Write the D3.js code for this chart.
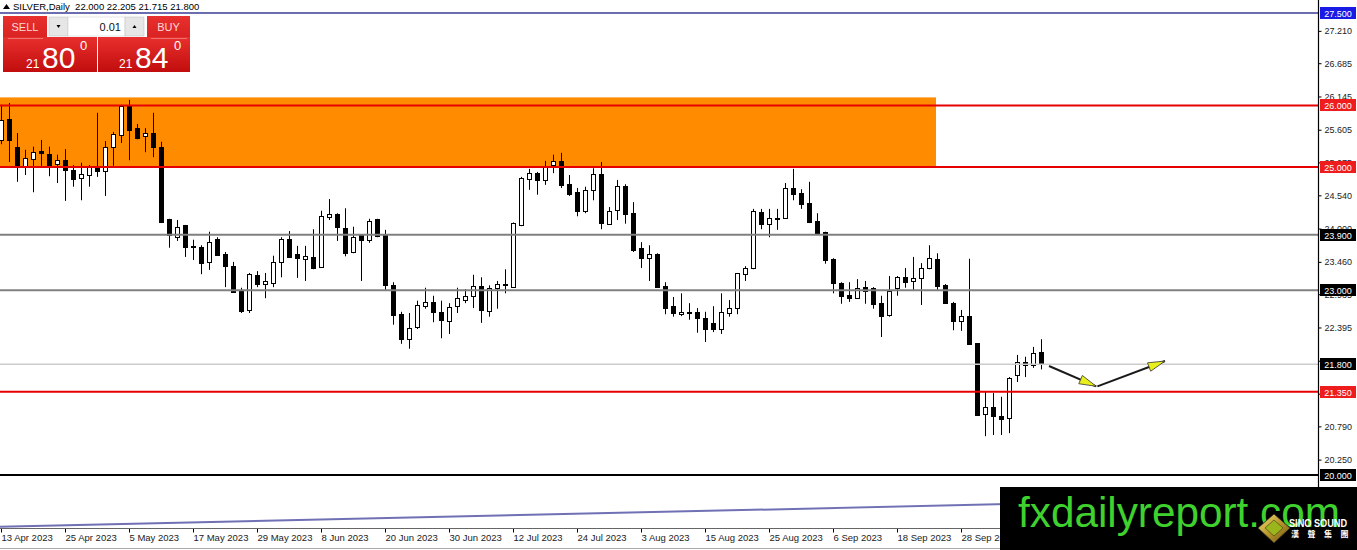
<!DOCTYPE html>
<html><head><meta charset="utf-8">
<script src="https://cdn.jsdelivr.net/npm/d3@7"></script>
<style>body{margin:0;background:#fff;overflow:hidden}svg{display:block}</style>
</head><body>
<svg id="c" width="1357" height="550"></svg>
<script>
// ---------------- DATA ----------------
const dates = [
"2023-04-13","2023-04-14","2023-04-17","2023-04-18","2023-04-19","2023-04-20","2023-04-21","2023-04-24","2023-04-25","2023-04-26","2023-04-27","2023-04-28",
"2023-05-01","2023-05-02","2023-05-03","2023-05-04","2023-05-05","2023-05-08","2023-05-09","2023-05-10","2023-05-11","2023-05-12","2023-05-15","2023-05-16","2023-05-17","2023-05-18","2023-05-19","2023-05-22","2023-05-23","2023-05-24","2023-05-25","2023-05-26","2023-05-29","2023-05-30","2023-05-31",
"2023-06-01","2023-06-02","2023-06-05","2023-06-06","2023-06-07","2023-06-08","2023-06-09","2023-06-12","2023-06-13","2023-06-14","2023-06-15","2023-06-16","2023-06-19","2023-06-20","2023-06-21","2023-06-22","2023-06-23","2023-06-26","2023-06-27","2023-06-28","2023-06-29","2023-06-30",
"2023-07-03","2023-07-04","2023-07-05","2023-07-06","2023-07-07","2023-07-10","2023-07-11","2023-07-12","2023-07-13","2023-07-14","2023-07-17","2023-07-18","2023-07-19","2023-07-20","2023-07-21","2023-07-24","2023-07-25","2023-07-26","2023-07-27","2023-07-28","2023-07-31",
"2023-08-01","2023-08-02","2023-08-03","2023-08-04","2023-08-07","2023-08-08","2023-08-09","2023-08-10","2023-08-11","2023-08-14","2023-08-15","2023-08-16","2023-08-17","2023-08-18","2023-08-21","2023-08-22","2023-08-23","2023-08-24","2023-08-25","2023-08-28","2023-08-29","2023-08-30","2023-08-31",
"2023-09-01","2023-09-04","2023-09-05","2023-09-06","2023-09-07","2023-09-08","2023-09-11","2023-09-12","2023-09-13","2023-09-14","2023-09-15","2023-09-18","2023-09-19","2023-09-20","2023-09-21","2023-09-22","2023-09-25","2023-09-26","2023-09-27","2023-09-28","2023-09-29",
"2023-10-02","2023-10-03","2023-10-04","2023-10-05","2023-10-06","2023-10-09","2023-10-10","2023-10-11","2023-10-12"];

const open = [25.44,25.78,25.33,25.00,25.13,25.26,25.21,25.05,25.11,24.95,24.82,24.87,25.00,24.94,25.33,25.52,25.99,25.63,25.50,25.55,
25.33,24.16,23.86,24.06,23.70,23.70,23.46,23.83,23.59,23.39,23.00,22.68,23.25,23.10,23.12,23.46,23.83,23.59,23.51,23.54,
23.38,24.19,24.24,24.01,23.62,23.90,23.82,24.16,23.90,23.08,22.61,22.21,22.40,22.74,22.81,22.65,22.50,22.74,22.84,22.91,
23.07,22.66,23.04,23.09,23.06,24.06,24.81,24.90,24.79,25.03,25.10,24.72,24.59,24.29,24.63,24.89,24.07,24.30,24.69,24.25,
23.68,23.52,23.59,23.07,22.74,22.61,22.65,22.65,22.55,22.47,22.37,22.63,22.71,23.26,23.36,24.27,24.08,24.17,24.17,24.66,
24.58,24.42,24.12,23.95,23.51,23.12,22.92,22.87,23.05,23.04,22.79,22.60,23.04,23.21,23.15,23.20,23.36,23.51,23.08,22.79,
22.50,22.58,22.14,20.99,21.10,20.96,20.93,21.62,21.83,21.79,22.00];
const high = [26.01,26.04,25.55,25.28,25.33,25.44,25.33,25.20,25.29,25.03,25.07,25.03,25.88,25.42,25.57,26.01,26.09,25.70,25.63,25.88,
25.41,24.16,24.14,24.06,23.82,23.73,23.95,23.86,23.62,23.46,23.04,23.28,23.31,23.28,23.56,23.86,23.96,23.72,23.72,23.99,
24.29,24.48,24.25,24.33,24.03,23.90,24.16,24.16,23.98,23.13,22.65,22.63,22.83,23.04,22.91,22.83,22.79,23.04,23.02,23.25,
23.21,23.08,23.15,23.34,24.10,24.84,24.97,24.92,25.10,25.20,25.23,24.87,24.66,24.68,24.98,25.08,24.35,24.79,24.72,24.43,
23.78,23.73,23.60,23.13,22.89,22.95,22.79,22.71,22.65,22.74,22.95,22.84,23.28,23.39,24.32,24.32,24.32,24.32,24.74,24.97,
24.64,24.76,24.25,23.95,23.52,23.13,23.13,23.18,23.15,23.05,22.91,23.23,23.23,23.36,23.54,23.44,23.73,23.60,23.10,22.81,
22.68,23.51,22.14,21.35,21.33,21.27,21.59,21.95,21.92,22.08,22.205];
const low = [25.37,25.08,24.76,24.87,24.59,25.02,24.85,24.74,24.45,24.68,24.46,24.68,24.84,24.53,25.02,25.39,25.11,25.45,25.24,25.16,
24.09,23.69,23.80,23.54,23.49,23.26,23.33,23.56,23.05,22.97,22.63,22.63,23.05,22.87,23.05,23.21,23.54,23.20,23.15,23.34,
23.38,24.14,23.80,23.55,23.60,23.15,23.77,23.86,23.00,22.44,22.13,22.05,22.37,22.70,22.48,22.22,22.29,22.63,22.79,22.71,
22.47,22.57,22.70,22.95,23.05,24.04,24.63,24.55,24.71,24.90,24.66,24.53,24.20,24.25,24.46,23.99,24.06,24.14,24.08,23.62,
23.36,23.15,23.04,22.61,22.57,22.58,22.52,22.31,22.16,22.32,22.29,22.57,22.61,23.15,23.34,23.99,23.86,23.98,24.16,24.46,
24.32,24.09,23.93,23.43,22.95,22.78,22.81,22.86,22.78,22.70,22.24,22.57,22.91,23.04,23.00,22.76,23.34,23.00,22.79,22.35,
22.34,22.13,20.97,20.63,20.65,20.65,20.68,21.51,21.59,21.74,21.715];
const close = [25.76,25.44,25.00,25.15,25.24,25.23,25.03,25.11,24.95,24.81,24.89,25.00,24.94,25.33,25.54,25.99,25.60,25.47,25.55,25.33,
24.11,23.90,24.03,23.70,23.71,23.44,23.78,23.57,23.39,22.97,22.66,23.26,23.10,23.15,23.46,23.83,23.54,23.52,23.56,23.36,
24.20,24.24,24.03,23.60,23.86,23.82,24.12,23.88,23.08,22.60,22.21,22.39,22.76,22.81,22.65,22.52,22.73,22.87,22.91,23.07,
22.68,23.04,23.10,23.10,24.09,24.82,24.90,24.79,25.00,25.10,24.71,24.56,24.29,24.63,24.89,24.09,24.29,24.69,24.24,23.65,
23.52,23.59,23.05,22.71,22.63,22.65,22.63,22.55,22.37,22.37,22.65,22.71,23.28,23.36,24.29,24.08,24.17,24.18,24.66,24.56,
24.40,24.11,23.93,23.49,23.12,22.91,22.87,23.04,22.99,22.78,22.58,22.99,23.21,23.13,23.20,23.36,23.52,23.07,22.79,22.50,
22.58,22.13,20.97,21.10,20.96,20.91,21.58,21.83,21.79,21.98,21.80];

const tickDates  = ["2023-04-13","2023-04-25","2023-05-05","2023-05-17","2023-05-29","2023-06-08","2023-06-20","2023-06-30","2023-07-12","2023-07-24","2023-08-03","2023-08-15","2023-08-25","2023-09-06","2023-09-18","2023-09-28"];
const tickLabels = ["13 Apr 2023","25 Apr 2023","5 May 2023","17 May 2023","29 May 2023","8 Jun 2023","20 Jun 2023","30 Jun 2023","12 Jul 2023","24 Jul 2023","3 Aug 2023","15 Aug 2023","25 Aug 2023","6 Sep 2023","18 Sep 2023","28 Sep 2023"];
const priceTicks = [27.210,26.685,26.145,25.605,25.075,24.540,24.000,23.460,22.935,22.395,21.855,21.320,20.790,20.250];

const levelPrices = [27.5, 26.0, 25.0, 23.9, 23.0, 21.8, 21.35, 20.0];
const zonePrices = [26.13, 25.0];
const zoneEndDate = "2023-09-25";
const trendIdx = [0, 130];
const trendPrices = [19.16, 19.54];
const arrowIdx = [131, 136.9, 145.5];
const arrowPrices = [21.77, 21.44, 21.85];
const title = "SILVER,Daily  22.000 22.205 21.715 21.800";

// ---------------- STYLES ----------------
const levelStyle = {
  "27.5": {c:"#6c6cb0", w:2, bg:"#1a1ae6"},
  "26":   {c:"#e60000", w:2, bg:"#ee1c1c"},
  "25":   {c:"#e60000", w:2, bg:"#ee1c1c"},
  "23.9": {c:"#808080", w:2, bg:"#000"},
  "23":   {c:"#808080", w:2, bg:"#000"},
  "21.8": {c:"#cccccc", w:1.5, bg:"#000"},
  "21.35":{c:"#e60000", w:2, bg:"#ee1c1c"},
  "20":   {c:"#000000", w:2, bg:"#000"}
};
const FONT = "'Liberation Sans', Arial, sans-serif";
const plotR = 1318, plotB = 528;

const svg = d3.select("#c");
svg.append("rect").attr("width",1357).attr("height",550).attr("fill","#fff");

const x = d3.scaleLinear().domain([0, dates.length-1]).range([1, 1 + 8*(dates.length-1)]);
const y = d3.scaleLinear().domain([19.14, 27.711]).range([plotB, 0]);

const defs = svg.append("defs");
defs.append("clipPath").attr("id","plot").append("rect").attr("x",0).attr("y",0).attr("width",plotR).attr("height",plotB);
const rg = defs.append("linearGradient").attr("id","redg").attr("x1",0).attr("y1",0).attr("x2",0).attr("y2",1);
rg.append("stop").attr("offset","0%").attr("stop-color","#e8302e");
rg.append("stop").attr("offset","100%").attr("stop-color","#c10d0d");
const gg = defs.append("linearGradient").attr("id","gold").attr("x1",0).attr("y1",0).attr("x2",1).attr("y2",1);
gg.append("stop").attr("offset","0%").attr("stop-color","#f5e27a");
gg.append("stop").attr("offset","50%").attr("stop-color","#b8962a");
gg.append("stop").attr("offset","100%").attr("stop-color","#6b5310");

const plot = svg.append("g").attr("clip-path","url(#plot)");

// zone
const zi = dates.indexOf(zoneEndDate);
plot.append("rect").attr("x",0).attr("y",y(zonePrices[0]))
  .attr("width",x(zi)-1).attr("height",y(zonePrices[1])-y(zonePrices[0]))
  .attr("fill","#ff8c00");

// candles
const idx = d3.range(dates.length);
const cg = plot.append("g");
idx.forEach(i=>{
  const cx = Math.round(x(i));
  cg.append("line").attr("x1",cx+0.5).attr("x2",cx+0.5)
    .attr("y1",y(high[i])).attr("y2",y(low[i])).attr("stroke","#000").attr("stroke-width",1);
  const up = close[i] >= open[i];
  const yt = Math.round(y(Math.max(open[i],close[i])));
  const yb = Math.round(y(Math.min(open[i],close[i])));
  cg.append("rect").attr("x",cx-1.5).attr("y",yt+0.5)
    .attr("width",4).attr("height",Math.max(1,yb-yt))
    .attr("fill", up ? "#fff" : "#000").attr("stroke","#000").attr("stroke-width",1);
});

// level lines
levelPrices.forEach(p=>{
  const s = levelStyle[String(p)];
  plot.append("line").attr("x1",0).attr("x2",plotR).attr("y1",y(p)).attr("y2",y(p))
    .attr("stroke",s.c).attr("stroke-width",s.w);
});

// trend line (ray)
const slope = (trendPrices[1]-trendPrices[0])/(trendIdx[1]-trendIdx[0]);
const endIdx = x.invert(plotR);
plot.append("line")
  .attr("x1",x(trendIdx[0])-1).attr("y1",y(trendPrices[0]))
  .attr("x2",x(endIdx)).attr("y2",y(trendPrices[0]+slope*(endIdx-trendIdx[0])))
  .attr("stroke","#7070b4").attr("stroke-width",2);

// arrows
function arrow(i0,p0,i1,p1){
  const x0=x(i0), y0=y(p0), x1=x(i1), y1=y(p1);
  plot.append("line").attr("x1",x0).attr("y1",y0).attr("x2",x1).attr("y2",y1)
    .attr("stroke","#1a1a1a").attr("stroke-width",2);
  const a = Math.atan2(y1-y0, x1-x0), L=17, hw=4.5;
  const bx = x1 - L*Math.cos(a), by = y1 - L*Math.sin(a);
  const px = -Math.sin(a)*hw, py = Math.cos(a)*hw;
  plot.append("polygon")
    .attr("points",[[x1,y1],[bx+px,by+py],[bx-px,by-py]].map(d=>d.join(",")).join(" "))
    .attr("fill","#e9ef1a").attr("stroke","#333").attr("stroke-width",0.8);
}
arrow(arrowIdx[0],arrowPrices[0],arrowIdx[1],arrowPrices[1]);
arrow(arrowIdx[1]+0.15,arrowPrices[1],arrowIdx[2],arrowPrices[2]);

// right axis
const yAxis = d3.axisRight(y).tickValues(priceTicks).tickFormat(d3.format(".3f")).tickSize(3).tickSizeOuter(0);
const ya = svg.append("g").attr("transform",`translate(${plotR+0.5},0)`).call(yAxis);
ya.select(".domain").remove();
ya.selectAll("text").attr("font-family",FONT).attr("font-size",9).attr("fill","#222").attr("x",6);
ya.selectAll("line").attr("stroke","#000");
svg.append("line").attr("x1",plotR+0.5).attr("x2",plotR+0.5).attr("y1",0).attr("y2",plotB+1).attr("stroke","#000").attr("stroke-width",1.2);

// level labels
levelPrices.forEach(p=>{
  const s = levelStyle[String(p)];
  const g = svg.append("g").attr("transform",`translate(${plotR+2},${Math.round(y(p))})`);
  g.append("rect").attr("x",0).attr("y",-6).attr("width",36).attr("height",12).attr("fill",s.bg);
  g.append("text").attr("x",18).attr("y",3.5).attr("text-anchor","middle")
    .attr("font-family",FONT).attr("font-size",9).attr("fill","#fff").text(d3.format(".3f")(p));
});

// bottom axis
const tickIdx = tickDates.map(d=>dates.indexOf(d));
const xAxis = d3.axisBottom(x).tickValues(tickIdx).tickFormat((d,k)=>tickLabels[k]).tickSize(4).tickSizeOuter(0);
const xa = svg.append("g").attr("transform",`translate(0,${plotB+0.5})`).call(xAxis);
xa.select(".domain").remove();
xa.selectAll(".tick line").attr("stroke","#000");
xa.selectAll(".tick").attr("transform",d=>`translate(${Math.round(x(d))+0.5},0)`);
xa.selectAll("text").attr("font-family",FONT).attr("font-size",9.5).attr("fill","#222")
  .attr("text-anchor","start").attr("x",0).attr("y",9).attr("dy","0.32em");
svg.append("line").attr("x1",0).attr("x2",plotR).attr("y1",plotB+0.5).attr("y2",plotB+0.5).attr("stroke","#666").attr("stroke-width",1);
svg.append("line").attr("x1",0).attr("x2",1357).attr("y1",548.5).attr("y2",548.5).attr("stroke","#aaa").attr("stroke-width",1);

// title
svg.append("path").attr("d","M3,9 L6.5,4 L10,9 Z").attr("fill","#000");
svg.append("text").attr("x",13).attr("y",10).attr("font-family",FONT).attr("font-size",9.5)
  .attr("fill","#000").attr("xml:space","preserve").style("white-space","pre").text(title);

// trade panel
const pan = svg.append("g");
pan.append("rect").attr("x",3).attr("y",16).attr("width",44).attr("height",56).attr("fill","url(#redg)");
pan.append("rect").attr("x",3).attr("y",37).attr("width",94).attr("height",35).attr("fill","url(#redg)");
pan.append("rect").attr("x",147).attr("y",16).attr("width",43).attr("height",56).attr("fill","url(#redg)");
pan.append("rect").attr("x",98).attr("y",37).attr("width",92).attr("height",35).attr("fill","url(#redg)");
pan.append("line").attr("x1",8).attr("x2",43).attr("y1",38.5).attr("y2",38.5).attr("stroke","#f08080").attr("stroke-width",0.8);
pan.append("line").attr("x1",151).attr("x2",187).attr("y1",38.5).attr("y2",38.5).attr("stroke","#f08080").attr("stroke-width",0.8);
pan.append("rect").attr("x",49).attr("y",17).attr("width",19).attr("height",19).attr("fill","#e6e6e6").attr("stroke","#bbb").attr("stroke-width",0.5);
pan.append("rect").attr("x",68).attr("y",17).attr("width",57).attr("height",19).attr("fill","#fff").attr("stroke","#ccc").attr("stroke-width",0.5);
pan.append("rect").attr("x",125).attr("y",17).attr("width",19).attr("height",19).attr("fill","#e6e6e6").attr("stroke","#bbb").attr("stroke-width",0.5);
pan.append("path").attr("d","M56.5,25 L60.5,25 L58.5,28 Z").attr("fill","#000");
pan.append("path").attr("d","M132.5,28 L136.5,28 L134.5,25 Z").attr("fill","#000");
const pt = (t,xx,yy,fs,fill,anchor)=>pan.append("text").attr("x",xx).attr("y",yy).attr("font-family",FONT)
  .attr("font-size",fs).attr("fill",fill).attr("text-anchor",anchor||"start").text(t);
pt("SELL",25,31,11,"#ffd9d9","middle");
pt("BUY",168.5,31,11,"#ffd9d9","middle");
pt("0.01",121,31,11,"#111","end");
pt("21",26,68,12,"#fff");
pt("80",42,68,30,"#fff");
pt("0",80,50,13,"#fff");
pt("21",119,68,12,"#fff");
pt("84",135,68,30,"#fff");
pt("0",174,50,13,"#fff");

// watermark
const wm = svg.append("g");
wm.append("rect").attr("x",1000).attr("y",487).attr("width",357).attr("height",63).attr("fill","#000");
wm.append("text").attr("x",1018).attr("y",527).attr("font-family",FONT).attr("font-size",42)
  .attr("fill","#3fd12d").attr("textLength",322).attr("lengthAdjust","spacingAndGlyphs").text("fxdailyreport.com");
wm.append("polygon").attr("points","1274,514 1290,528 1274,543 1258,528").attr("fill","url(#gold)").attr("stroke","#2a2a2a").attr("stroke-width",0.8);
wm.append("polygon").attr("points","1274,520 1283,528 1274,536 1265,528").attr("fill","#9bb51c").attr("stroke","#3a3a10").attr("stroke-width",0.6);
wm.append("text").attr("x",1289).attr("y",527).attr("font-family",FONT).attr("font-weight","bold").attr("font-size",10)
  .attr("fill","#fff").attr("textLength",58).attr("lengthAdjust","spacingAndGlyphs").text("SINO SOUND");
wm.append("text").attr("x",1291).attr("y",537).attr("font-family","'Noto Sans CJK TC', sans-serif").attr("font-weight","bold").attr("font-size",8)
  .attr("fill","#fff").attr("letter-spacing","8.5").text("漢聲集團");
</script>
</body></html>
